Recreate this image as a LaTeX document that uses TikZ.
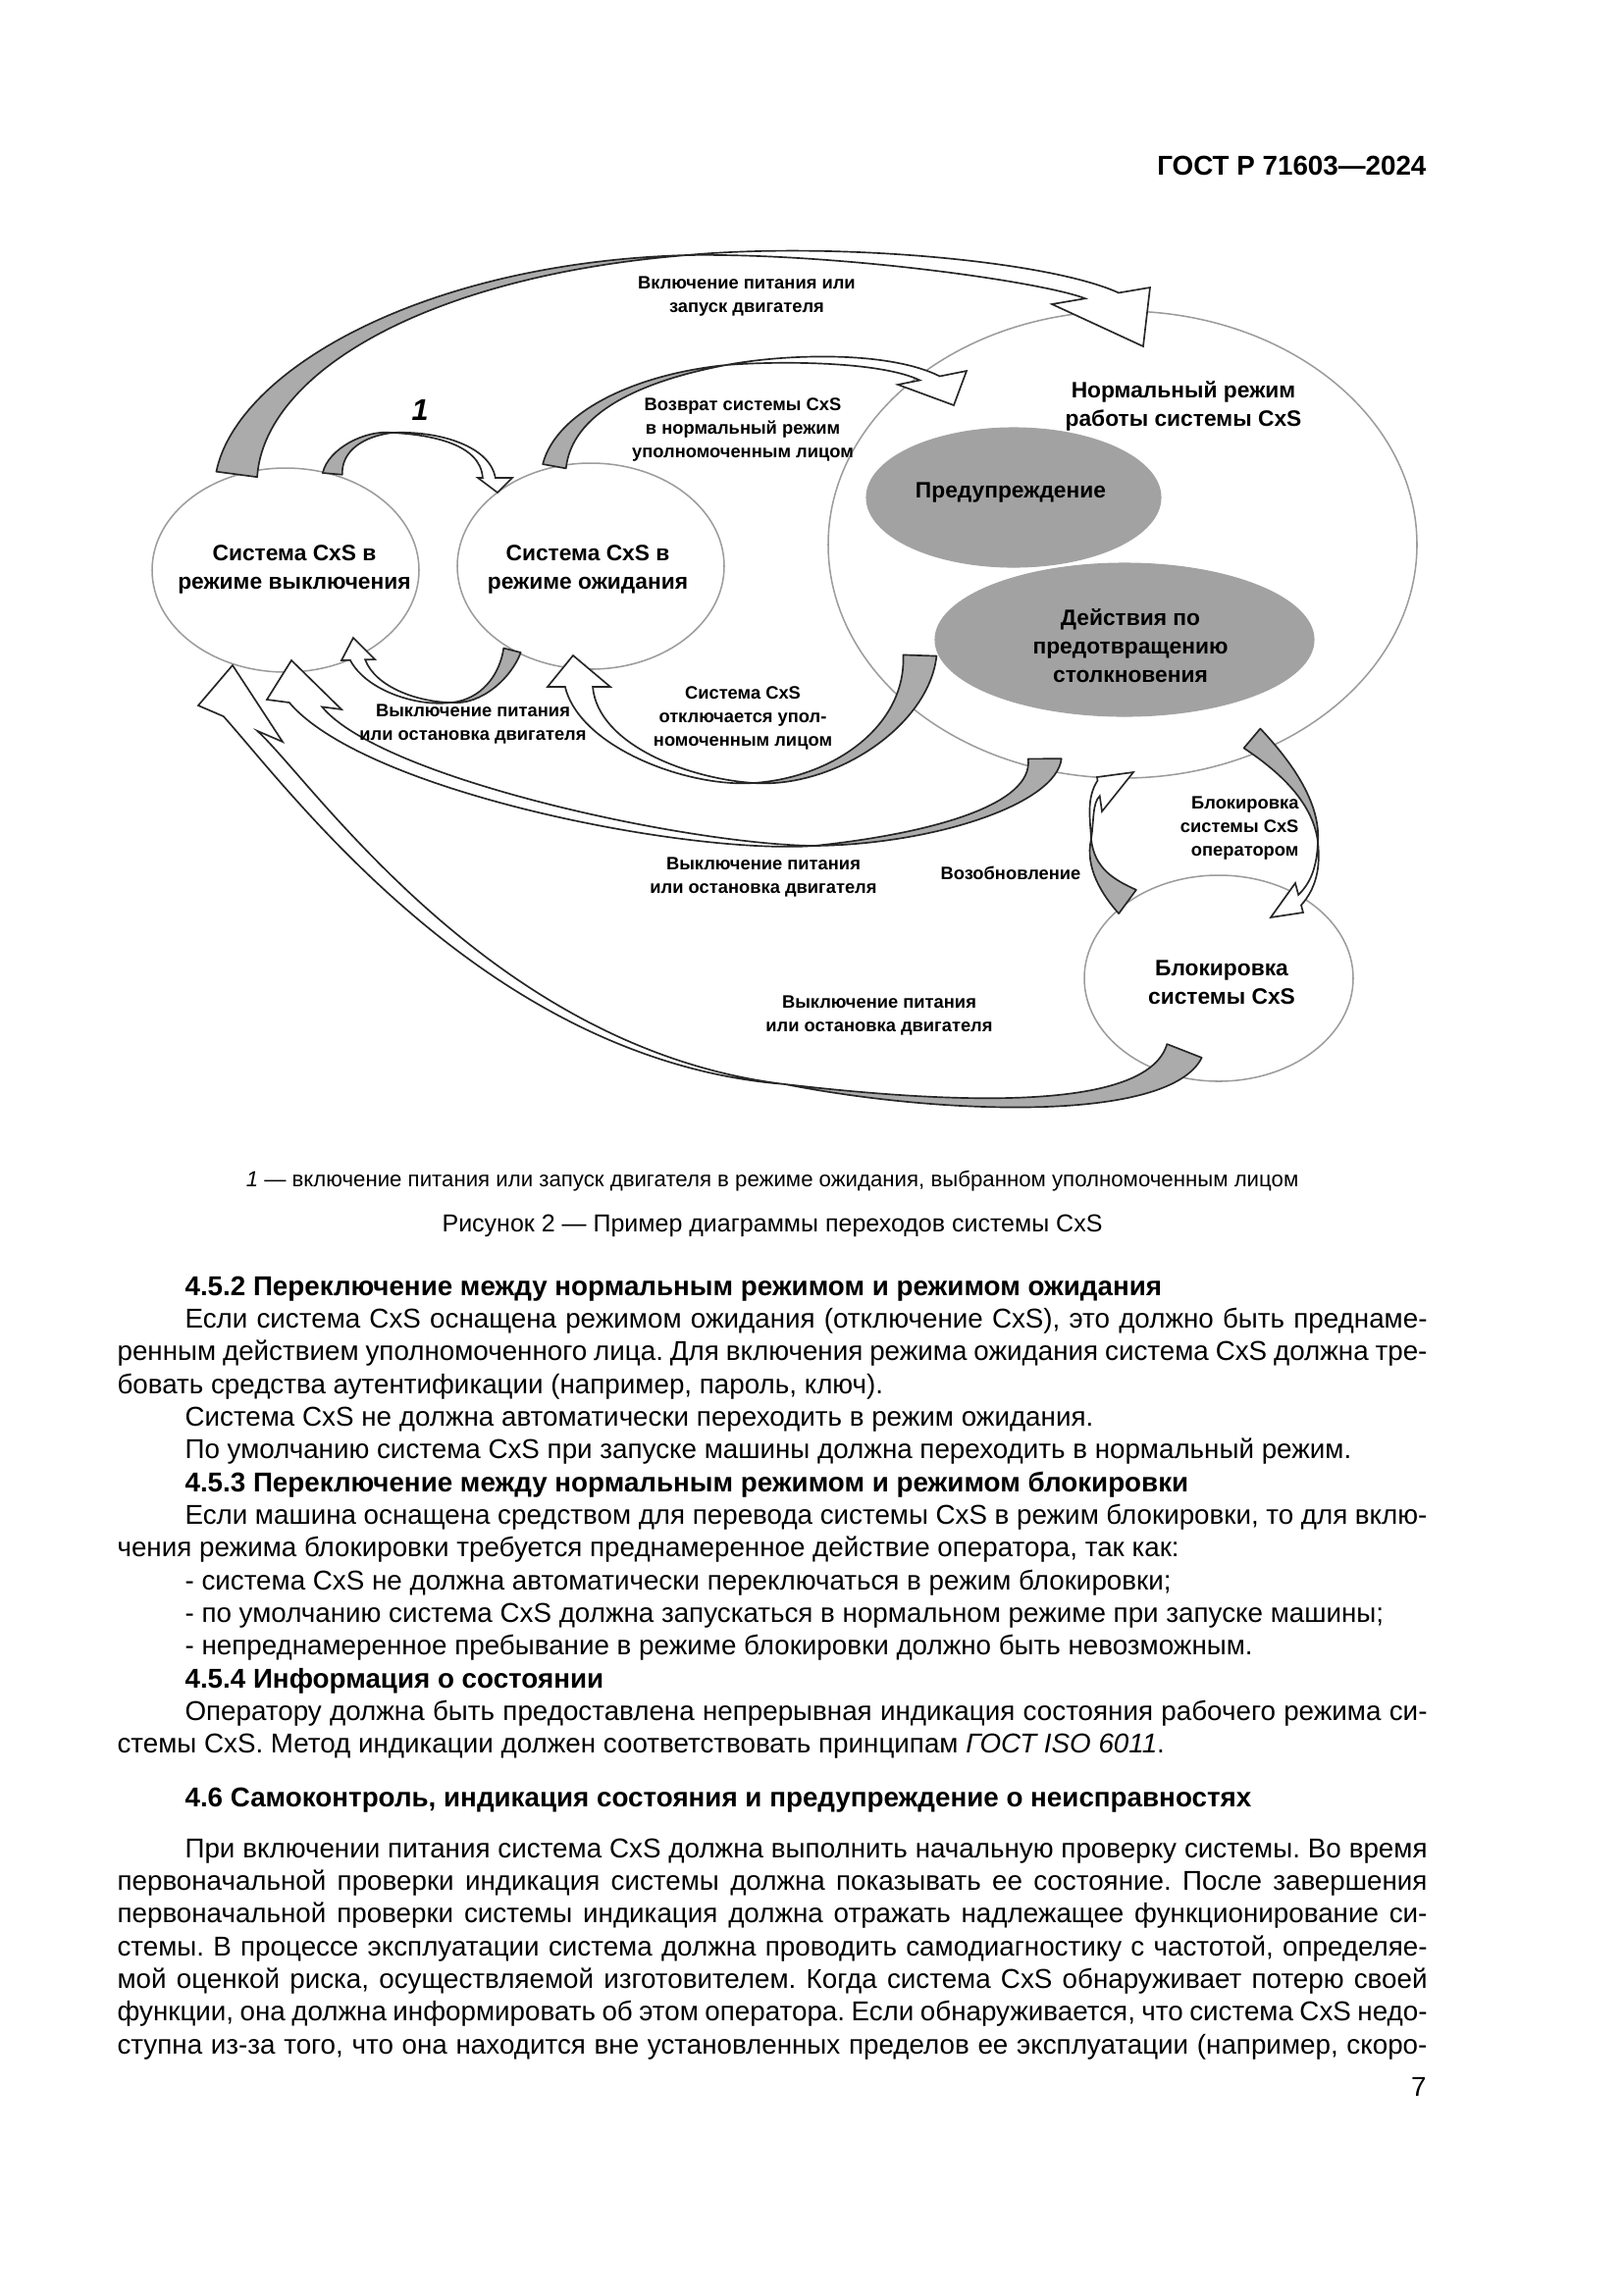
\documentclass[tikz,border=0pt]{standalone}
\usepackage{fontspec}
\setmainfont{Liberation Sans}
\usetikzlibrary{calc,shapes.geometric}
\frenchspacing
\definecolor{cline}{HTML}{9C9C9C}
\definecolor{efill}{HTML}{A2A2A2}
\definecolor{rgrey}{HTML}{ABABAB}
\newcommand\CxBig{\fontsize{8.2pt}{10.4pt}\selectfont\bfseries}
\newcommand\CxSmall{\fontsize{6.6pt}{8.6pt}\selectfont\bfseries}
\newcommand\CxBody{\fontsize{10pt}{12pt}\selectfont\frenchspacing}
\newcommand\CxHead{\fontsize{10pt}{12pt}\selectfont\bfseries}
\tikzset{
  stnode/.style={ellipse, draw=cline, line width=0.55pt, fill=white, inner sep=0pt},
  inode/.style={ellipse, fill=efill, draw=efill, inner sep=0pt},
  ribgrey/.style={fill=rgrey, draw=black!85, line width=0.6pt, line join=round},
  ribwhite/.style={fill=white, draw=black!85, line width=0.6pt, line join=miter},
  bigtxt/.style={inner sep=0pt, align=center, font=\CxBig},
  lbl/.style={inner sep=0pt, align=center, font=\CxSmall},
  bodyline/.style={anchor=base west, inner sep=0pt, font=\CxBody},
}
% ribbon parameters: tail half width, body half width at head, notch fractions (px)
\newcommand\CxSet[4]{%
  \pgfmathsetlengthmacro\CxTa{#1*0.36pt}%
  \pgfmathsetlengthmacro\CxTb{#1*0.24pt}%
  \pgfmathsetlengthmacro\CxTc{#1*0.12pt}%
  \pgfmathsetlengthmacro\CxBb{#2*0.24pt}%
  \pgfmathsetlengthmacro\CxBc{#2*0.12pt}%
  \def\CxFa{#3}\def\CxFb{#4}%
  \pgfmathsetmacro\CxFm{(#3+#4)/2}}
% ribbon: tail, c1, c2, twist, c3, c4, left barb, tip, right barb
\newcommand\CxRib[9]{%
  \coordinate (rT) at #1; \coordinate (rA) at #2; \coordinate (rB) at #3;
  \coordinate (rM) at #4; \coordinate (rC) at #5; \coordinate (rD) at #6;
  \coordinate (rBa) at #7; \coordinate (rTip) at #8; \coordinate (rBb) at #9;
  \coordinate (rH) at ($(rBa)!\CxFm!(rBb)$);
  \coordinate (rN1) at ($(rBa)!\CxFa!(rBb)$);
  \coordinate (rN2) at ($(rBa)!\CxFb!(rBb)$);
  \filldraw[ribgrey] ($(rT)!\CxTa!90:(rA)$) .. controls ($(rA)!\CxTb!-90:(rT)$) and ($(rB)!\CxTc!90:(rM)$) .. (rM)
     .. controls ($(rB)!\CxTc!-90:(rM)$) and ($(rA)!\CxTb!90:(rT)$) .. ($(rT)!\CxTa!-90:(rA)$) -- cycle;
  \filldraw[ribwhite] (rM) .. controls ($(rC)!\CxBc!-90:(rM)$) and ($(rD)!\CxBb!90:(rH)$) .. (rN1)
     -- (rBa) -- (rTip) -- (rBb) -- (rN2)
     .. controls ($(rD)!\CxBb!-90:(rH)$) and ($(rC)!\CxBc!90:(rM)$) .. (rM) -- cycle;
}
\newcommand\CxInd[3]{\node[bodyline] (#1) at (188,#2) {\makebox[455.76pt][s]{#3}};}
\newcommand\CxFul[3]{\node[bodyline] (#1) at (119,#2) {\makebox[480.6pt][s]{#3}};}
\newcommand\CxNat[4]{\node[bodyline] (#1) at (#2,#3) {#4};}
\begin{document}
\begin{tikzpicture}[x=0.36pt,y=-0.36pt]
\useasboundingbox (0,0) rectangle (1654,2339);
\fill[white] (0,0) rectangle (1654,2339);

% header
\node[anchor=base east, inner sep=0pt, font=\CxHead] (hdr) at (1454,178) {ГОСТ Р 71603—2024};

% states
\node[stnode, minimum width=97.92pt, minimum height=74.88pt] (off) at (291,581) {};
\node[stnode, minimum width=97.92pt, minimum height=75.6pt] (stby) at (602,577) {};
\node[stnode, minimum width=216pt, minimum height=171.36pt] (norm) at (1144,555) {};
\node[inode, minimum width=108pt, minimum height=51.12pt] (warn) at (1033,507) {};
\node[inode, minimum width=138.96pt, minimum height=56.16pt] (avoid) at (1146,652) {};
\node[stnode, minimum width=98.64pt, minimum height=75.6pt] (lock) at (1242,997) {};

% ribbons
\CxSet{21}{17}{0.32}{0.66}
\CxRib{(off.117)}{(255,380)}{(430,275)}{(700,260)}{(850,252)}{(1064,276)}{(1172,293)}{(1165,353)}{(1072,310)}
\CxSet{10}{6.5}{0.49}{0.86}
\CxRib{(off.64)}{(341,458)}{(372,441)}{(400,441)}{(440,441)}{(494,452)}{(522,487)}{(507,502)}{(487,487)}
\CxSet{12}{10}{0.39}{0.68}
\CxRib{(stby.110)}{(575,420)}{(650,385)}{(740,372)}{(800,364)}{(902,363)}{(985,378)}{(972,413)}{(915,392)}
\CxSet{9}{7.5}{0.26}{0.71}
\CxRib{(stby.227)}{(515,690)}{(490,716)}{(460,716)}{(425,718)}{(378,702)}{(348,673)}{(360,650)}{(382,672)}
\CxSet{17}{14}{0.28}{0.72}
\CxRib{($(avoid.west)+(-15,16)$)}{(935,740)}{(850,798)}{(768,798)}{(700,798)}{(600,760)}{(558,700)}{(584,668)}{(622,700)}
\CxSet{17}{16}{0.30}{0.74}
\CxRib{($(norm.251)+(0,-12)$)}{(1065,820)}{(950,855)}{(830,862)}{(700,866)}{(380,800)}{(272,713)}{(297,673)}{(348,723)}
\CxSet{19}{18}{0.30}{0.70}
\CxRib{($(lock.center)+(-35,74)$)}{(1180,1140)}{(960,1130)}{(800,1105)}{(500,1075)}{(308,802)}{(202,719)}{(237,678)}{(288,756)}
\CxSet{13}{6}{0.25}{0.6}
\CxRib{($(norm.304)+(-10,-13)$)}{(1305,777)}{(1342,815)}{(1343,858)}{(1344,885)}{(1338,903)}{(1328,930)}{(1295,935)}{(1320,900)}
\CxSet{15}{6}{0.1}{0.55}
\CxRib{(lock.140)}{(1130,905)}{(1110,885)}{(1112,855)}{(1113,835)}{(1110,816)}{(1118,792)}{(1155,787)}{(1123,827)}

% state texts
\node[bigtxt] (offtxt) at (300,580) {Система CxS в\\режиме выключения};
\node[bigtxt] (stbytxt) at (599,580) {Система CxS в\\режиме ожидания};
\node[bigtxt] (normtxt) at (1206,414) {Нормальный режим\\работы системы CxS};
\node[bigtxt] (warntxt) at (1030,502) {Предупреждение};
\node[bigtxt] (avoidtxt) at (1152,658) {Действия по\\предотвращению\\столкновения};
\node[bigtxt] (locktxt) at (1245,1001) {Блокировка\\системы CxS};

% transition labels
\node[inner sep=0pt, font=\fontsize{11pt}{13pt}\selectfont\bfseries\itshape] (one) at (428,418) {1};
\node[lbl] (l1) at (761,302) {Включение питания или\\запуск двигателя};
\node[lbl] (l2) at (757,438) {Возврат системы CxS\\в нормальный режим\\уполномоченным лицом};
\node[lbl] (l3) at (482,738) {Выключение питания\\или остановка двигателя};
\node[lbl] (l4) at (757,732) {Система CxS\\отключается упол-\\номоченным лицом};
\node[lbl] (l5) at (778,894) {Выключение питания\\или остановка двигателя};
\node[lbl, anchor=east, align=right] (l6) at (1324,844) {Блокировка\\системы CxS\\оператором};
\node[lbl] (l7) at (1030,890) {Возобновление};
\node[lbl] (l8) at (896,1035) {Выключение питания\\или остановка двигателя};

% captions
\node[anchor=base, inner sep=0pt, font=\fontsize{8pt}{10pt}\selectfont] (note) at (787,1209)
  {\textit{1} — включение питания или запуск двигателя в режиме ожидания, выбранном уполномоченным лицом};
\node[anchor=base, inner sep=0pt, font=\fontsize{9pt}{11pt}\selectfont] (fig) at (787,1255)
  {Рисунок 2 — Пример диаграммы переходов системы CxS};

% body text
\node[anchor=base west, inner sep=0pt, font=\CxHead] (h452) at (188,1320) {4.5.2 Переключение между нормальным режимом и режимом ожидания};
\CxInd{b1}{1353}{Если система CxS оснащена режимом ожидания (отключение CxS), это должно быть преднаме-}
\CxFul{b2}{1386}{ренным действием уполномоченного лица. Для включения режима ожидания система CxS должна тре-}
\CxNat{b3}{119}{1420}{бовать средства аутентификации (например, пароль, ключ).}
\CxNat{b4}{188}{1453}{Система CxS не должна автоматически переходить в режим ожидания.}
\CxNat{b5}{188}{1486}{По умолчанию система CxS при запуске машины должна переходить в нормальный режим.}
\node[anchor=base west, inner sep=0pt, font=\CxHead] (h453) at (188,1520) {4.5.3 Переключение между нормальным режимом и режимом блокировки};
\CxInd{b6}{1553}{Если машина оснащена средством для перевода системы CxS в режим блокировки, то для вклю-}
\CxNat{b7}{119}{1586}{чения режима блокировки требуется преднамеренное действие оператора, так как:}
\CxNat{b8}{188}{1620}{- система CxS не должна автоматически переключаться в режим блокировки;}
\CxNat{b9}{188}{1653}{- по умолчанию система CxS должна запускаться в нормальном режиме при запуске машины;}
\CxNat{b10}{188}{1686}{- непреднамеренное пребывание в режиме блокировки должно быть невозможным.}
\node[anchor=base west, inner sep=0pt, font=\CxHead] (h454) at (188,1720) {4.5.4 Информация о состоянии};
\CxInd{b11}{1753}{Оператору должна быть предоставлена непрерывная индикация состояния рабочего режима си-}
\CxNat{b12}{119}{1786}{стемы CxS. Метод индикации должен соответствовать принципам \textit{ГОСТ ISO 6011}.}
\node[anchor=base west, inner sep=0pt, font=\CxHead] (h46) at (188,1841) {4.6 Самоконтроль, индикация состояния и предупреждение о неисправностях};
\CxInd{c1}{1893}{При включении питания система CxS должна выполнить начальную проверку системы. Во время}
\CxFul{c2}{1926}{первоначальной проверки индикация системы должна показывать ее состояние. После завершения}
\CxFul{c3}{1959}{первоначальной проверки системы индикация должна отражать надлежащее функционирование си-}
\CxFul{c4}{1993}{стемы. В процессе эксплуатации система должна проводить самодиагностику с частотой, определяе-}
\CxFul{c5}{2026}{мой оценкой риска, осуществляемой изготовителем. Когда система CxS обнаруживает потерю своей}
\CxFul{c6}{2059}{функции, она должна информировать об этом оператора. Если обнаруживается, что система CxS недо-}
\CxFul{c7}{2093}{ступна из-за того, что она находится вне установленных пределов ее эксплуатации (например, скоро-}
\node[anchor=base east, inner sep=0pt, font=\CxBody] (pg) at (1454,2136) {7};
\end{tikzpicture}
\end{document}
